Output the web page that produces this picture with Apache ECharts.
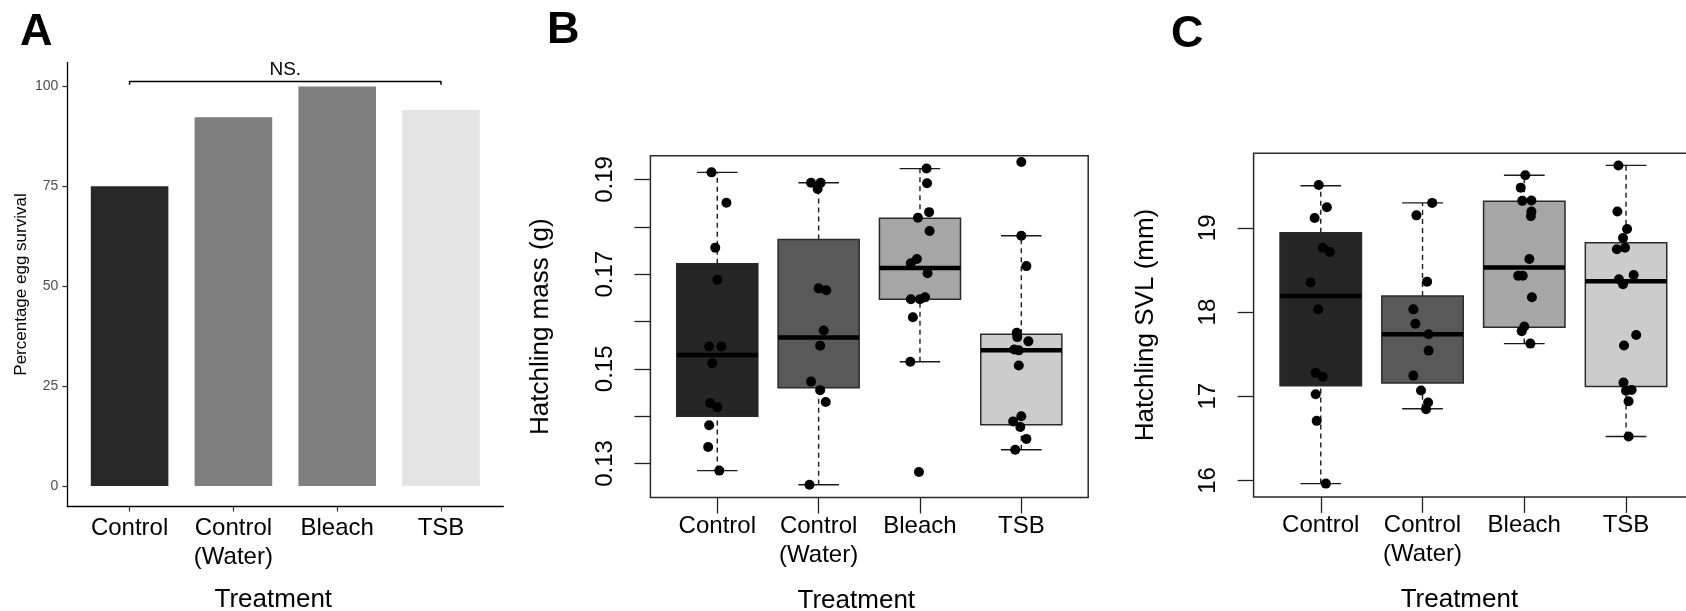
<!DOCTYPE html>
<html><head><meta charset="utf-8">
<script src="https://cdn.jsdelivr.net/npm/echarts@6/dist/echarts.min.js"></script>
<style>html,body{margin:0;padding:0;background:#fff}#chart{width:1686px;height:611px}</style>
</head><body><div id="chart"></div>
<script>
// ---------- DATA ----------
const categories = ['Control', 'Control\n(Water)', 'Bleach', 'TSB'];

// Panel A: percentage egg survival
const survival = [75, 92.3, 100, 94.1];
const survivalTicks = [0, 25, 50, 75, 100];
const nsBracket = [100.4, 101.2];   // foot of bracket ticks, bracket level
const nsLabel = 'NS.';

// Panel B: hatchling mass (g)  box = [lower whisker, Q1, median, Q3, upper whisker]
const massBoxes = [
  [0.1285, 0.1400, 0.1529, 0.1722, 0.1915],
  [0.1255, 0.1460, 0.1566, 0.1773, 0.1893],
  [0.1515, 0.1647, 0.1713, 0.1818, 0.1923],
  [0.1329, 0.1382, 0.1539, 0.1573, 0.1781]
];
// jittered points: [x offset from group, value]
const massControl = [[-0.057,0.1915],[0.09,0.1851],[-0.02,0.1756],[0,0.1688],[-0.08,0.1547],[0.04,0.1547],[-0.05,0.1512],[-0.07,0.1428],[0,0.1419],[-0.08,0.1381],[-0.09,0.1335],[0.02,0.1285]];
const massWater = [[-0.075,0.1893],[0.02,0.1893],[-0.01,0.1880],[0,0.1670],[0.075,0.1666],[0.05,0.1581],[0.015,0.1549],[-0.075,0.1473],[0.015,0.1455],[0.07,0.1430],[-0.09,0.1255]];
const massBleach = [[0.065,0.1923],[0.07,0.1892],[0.09,0.1831],[-0.02,0.1819],[0.095,0.1791],[-0.03,0.1732],[-0.09,0.1723],[0.075,0.1702],[-0.09,0.1647],[0,0.1647],[0.05,0.1651],[-0.07,0.1609],[-0.095,0.1515],[-0.01,0.1282]];
const massTSB = [[0,0.1937],[0,0.1781],[0.05,0.1717],[-0.045,0.1576],[-0.04,0.1567],[0.07,0.1558],[-0.07,0.1541],[-0.025,0.1539],[-0.025,0.1507],[0,0.1400],[-0.08,0.1389],[-0.01,0.1377],[0.05,0.1352],[-0.06,0.1329]];
const massTicks = [0.13, 0.14, 0.15, 0.16, 0.17, 0.18, 0.19];
const massLabels = [0.13, 0.15, 0.17, 0.19];

// Panel C: hatchling SVL (mm)
const svlBoxes = [
  [15.963, 17.125, 18.190, 18.940, 19.500],
  [16.852, 17.157, 17.736, 18.190, 19.296],
  [17.625, 17.819, 18.528, 19.315, 19.625],
  [16.523, 17.116, 18.366, 18.824, 19.741]
];
const svlControl = [[-0.02,19.509],[0.06,19.245],[-0.06,19.116],[0.02,18.764],[0.09,18.713],[-0.1,18.352],[-0.025,18.032],[-0.05,17.278],[0.02,17.231],[-0.05,17.023],[-0.04,16.708],[0.05,15.963]];
const svlWater = [[0.095,19.296],[-0.06,19.148],[0.045,18.361],[-0.09,18.032],[-0.07,17.861],[0.06,17.736],[0.06,17.542],[-0.09,17.245],[-0.015,17.069],[0.055,16.926],[0.035,16.847]];
const svlBleach = [[0.01,19.625],[-0.035,19.477],[-0.02,19.320],[0.07,19.324],[0.07,19.194],[0.065,19.139],[0.05,18.630],[-0.06,18.430],[-0.015,18.430],[0.075,18.176],[0,17.829],[-0.025,17.773],[0.06,17.625]];
const svlTSB = [[-0.075,19.741],[-0.085,19.194],[0.01,18.986],[-0.03,18.880],[-0.09,18.745],[-0.01,18.764],[-0.07,18.389],[0.075,18.440],[-0.03,18.329],[0.1,17.727],[-0.02,17.602],[-0.025,17.162],[0,17.065],[0.055,17.074],[0.025,16.940],[0.025,16.523]];
const svlTicks = [16, 17, 18, 19];

// ---------- STYLE ----------
const FONT = '"Liberation Sans", Arial, Helvetica, sans-serif';
const barColors = ['#282828', '#7f7f7f', '#7f7f7f', '#e4e4e4'];
const boxColors = ['#262626', '#595959', '#a6a6a6', '#cccccc'];

function boxRenderer(colors) {
  return function (params, api) {
    const x = api.value(0);
    const lo = api.coord([x, api.value(1)]);
    const q1 = api.coord([x, api.value(2)]);
    const md = api.coord([x, api.value(3)]);
    const q3 = api.coord([x, api.value(4)]);
    const hi = api.coord([x, api.value(5)]);
    const bw = api.size([0.8, 0])[0];
    const cw = api.size([0.4, 0])[0];
    const cx = md[0];
    const ink = '#1a1a1a';
    return {
      type: 'group',
      children: [
        { type: 'line', shape: { x1: cx, y1: q3[1], x2: cx, y2: hi[1] }, style: { stroke: ink, lineWidth: 1.4, lineDash: [5, 4] } },
        { type: 'line', shape: { x1: cx, y1: lo[1], x2: cx, y2: q1[1] }, style: { stroke: ink, lineWidth: 1.4, lineDash: [5, 4] } },
        { type: 'line', shape: { x1: cx - cw / 2, y1: hi[1], x2: cx + cw / 2, y2: hi[1] }, style: { stroke: ink, lineWidth: 1.4 } },
        { type: 'line', shape: { x1: cx - cw / 2, y1: lo[1], x2: cx + cw / 2, y2: lo[1] }, style: { stroke: ink, lineWidth: 1.4 } },
        { type: 'rect', shape: { x: cx - bw / 2, y: q3[1], width: bw, height: q1[1] - q3[1] }, style: { fill: colors[params.dataIndex], stroke: '#2a2a2a', lineWidth: 1.5 } },
        { type: 'line', shape: { x1: cx - bw / 2, y1: md[1], x2: cx + bw / 2, y2: md[1] }, style: { stroke: '#000', lineWidth: 4.5 } }
      ]
    };
  };
}

function jitterPoints(groups) {
  const out = [];
  groups.forEach((g, gi) => g.forEach(p => out.push([gi + 1 + p[0], p[1]])));
  return out;
}

const letterStyle = { fontSize: 45, fontWeight: 'bold', fontFamily: FONT, color: '#000' };
const tickFont = { fontFamily: FONT, color: '#000' };

function frameXAxis(gridIndex, nameGap, shift) {
  return {
    gridIndex, type: 'value', min: 0.34, max: 4.66,
    axisLine: { show: false },
    axisTick: { show: true, customValues: [1, 2, 3, 4], length: 16, lineStyle: { color: '#222', width: 1.3 } },
    axisLabel: { customValues: [1, 2, 3, 4], formatter: v => categories[Math.round(v) - 1], fontSize: 24, lineHeight: 29, margin: 14, ...tickFont },
    splitLine: { show: false },
    name: 'Treatment', nameLocation: 'middle', nameGap,
    nameTextStyle: { fontSize: 26, fontFamily: FONT, color: '#000', padding: [0, shift, 0, 0] }
  };
}

const option = {
  animation: false,
  backgroundColor: '#fff',
  title: [
    { text: 'A', left: 20, top: 10, padding: 0, textStyle: letterStyle },
    { text: 'B', left: 547, top: 8, padding: 0, textStyle: letterStyle },
    { text: 'C', left: 1171, top: 12, padding: 0, textStyle: letterStyle }
  ],
  grid: [
    { left: 67.3, top: 62.4, width: 436, height: 444.2, containLabel: false, outerBoundsMode: 'none' },
    { left: 650.4, top: 155.8, width: 437.8, height: 341.7, containLabel: false, outerBoundsMode: 'none',
      show: true, borderColor: '#2a2a2a', borderWidth: 1.5, backgroundColor: 'transparent' },
    { left: 1253.6, top: 153.2, width: 439.6, height: 343.7, containLabel: false, outerBoundsMode: 'none',
      show: true, borderColor: '#2a2a2a', borderWidth: 1.5, backgroundColor: 'transparent' }
  ],
  xAxis: [
    {
      gridIndex: 0, type: 'value', min: -0.6, max: 3.6,
      axisLine: { show: true, onZero: false, lineStyle: { color: '#000', width: 1.3 } },
      axisTick: { show: true, customValues: [0, 1, 2, 3], length: 5, lineStyle: { color: '#333', width: 1.2 } },
      axisLabel: { customValues: [0, 1, 2, 3], formatter: v => categories[Math.round(v)], fontSize: 24, lineHeight: 29, margin: 7, ...tickFont },
      splitLine: { show: false },
      name: 'Treatment', nameLocation: 'middle', nameGap: 80,
      nameTextStyle: { fontSize: 26, fontFamily: FONT, color: '#000', padding: [0, 24, 0, 0] }
    },
    frameXAxis(1, 90, 26),
    frameXAxis(2, 90, 28)
  ],
  yAxis: [
    {
      gridIndex: 0, type: 'value', min: -5.16, max: 106,
      axisLine: { show: true, onZero: false, lineStyle: { color: '#000', width: 1.3 } },
      axisTick: { show: true, customValues: survivalTicks, length: 5, lineStyle: { color: '#333', width: 1.2 } },
      axisLabel: { customValues: survivalTicks, fontSize: 14, margin: 9, fontFamily: FONT, color: '#4d4d4d' },
      splitLine: { show: false },
      name: 'Percentage egg survival', nameLocation: 'middle', nameGap: 37,
      nameTextStyle: { fontSize: 17, fontFamily: FONT, color: '#000' }
    },
    {
      gridIndex: 1, type: 'value', min: 0.12282, max: 0.195,
      axisLine: { show: false },
      axisTick: { show: true, customValues: massTicks, length: 16, lineStyle: { color: '#222', width: 1.3 } },
      axisLabel: { customValues: massLabels, rotate: 90, fontSize: 24, margin: 33, formatter: v => v.toFixed(2), ...tickFont },
      splitLine: { show: false },
      name: 'Hatchling mass (g)', nameLocation: 'middle', nameGap: 97,
      nameTextStyle: { fontSize: 26, fontFamily: FONT, color: '#000' }
    },
    {
      gridIndex: 2, type: 'value', min: 15.805, max: 19.886,
      axisLine: { show: false },
      axisTick: { show: true, customValues: svlTicks, length: 16, lineStyle: { color: '#222', width: 1.3 } },
      axisLabel: { customValues: svlTicks, rotate: 90, fontSize: 24, margin: 33, ...tickFont },
      splitLine: { show: false },
      name: 'Hatchling SVL (mm)', nameLocation: 'middle', nameGap: 95,
      nameTextStyle: { fontSize: 26, fontFamily: FONT, color: '#000' }
    }
  ],
  series: [
    {
      type: 'bar', xAxisIndex: 0, yAxisIndex: 0, barWidth: 77.6, silent: true,
      data: survival.map((v, i) => ({ value: [i, v], itemStyle: { color: barColors[i] } }))
    },
    {
      type: 'line', xAxisIndex: 0, yAxisIndex: 0, symbol: 'none', silent: true,
      lineStyle: { color: '#000', width: 1.5 },
      data: [[0, nsBracket[0]], [0, nsBracket[1]], [3, nsBracket[1]], [3, nsBracket[0]]],
      markPoint: {
        symbol: 'circle', symbolSize: 1, silent: true,
        itemStyle: { color: 'rgba(0,0,0,0)' },
        label: { show: true, position: 'top', distance: 2, formatter: nsLabel, fontSize: 19, fontFamily: FONT, color: '#000' },
        data: [{ coord: [1.5, nsBracket[1]] }]
      }
    },
    {
      type: 'custom', xAxisIndex: 1, yAxisIndex: 1, silent: true,
      renderItem: boxRenderer(boxColors),
      encode: { x: 0, y: [1, 2, 3, 4, 5] },
      data: massBoxes.map((b, i) => [i + 1, ...b])
    },
    {
      type: 'scatter', xAxisIndex: 1, yAxisIndex: 1, symbolSize: 10, silent: true, z: 5,
      itemStyle: { color: '#000', opacity: 1 },
      data: jitterPoints([massControl, massWater, massBleach, massTSB])
    },
    {
      type: 'custom', xAxisIndex: 2, yAxisIndex: 2, silent: true,
      renderItem: boxRenderer(boxColors),
      encode: { x: 0, y: [1, 2, 3, 4, 5] },
      data: svlBoxes.map((b, i) => [i + 1, ...b])
    },
    {
      type: 'scatter', xAxisIndex: 2, yAxisIndex: 2, symbolSize: 10, silent: true, z: 5,
      itemStyle: { color: '#000', opacity: 1 },
      data: jitterPoints([svlControl, svlWater, svlBleach, svlTSB])
    }
  ]
};

const chart = echarts.init(document.getElementById('chart'), null, { renderer: 'canvas' });
chart.setOption(option);
</script></body></html>
